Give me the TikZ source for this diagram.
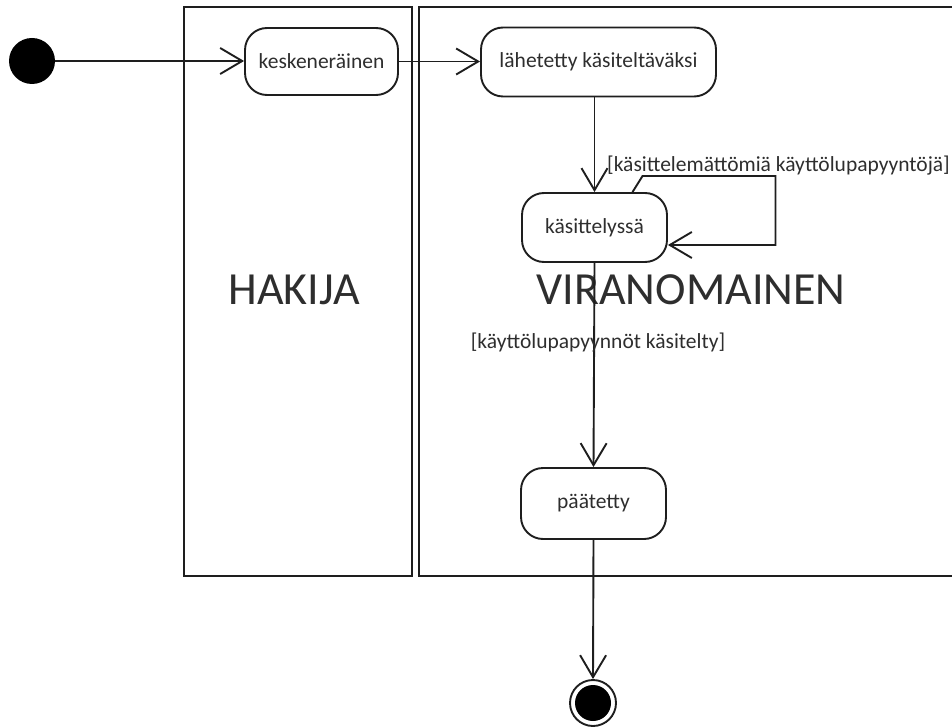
\documentclass[tikz,border=0pt]{standalone}
\usepackage{fontspec}
\setmainfont{Carlito}
\usetikzlibrary{arrows.meta}
\definecolor{ink}{HTML}{1E1E1E}
\definecolor{txt}{HTML}{2E2E2E}
\tikzset{
  lane/.style={draw=ink, line width=2.4pt},
  state/.style={draw=ink, line width=1.9pt, rounded corners=22pt, inner sep=0pt,
    text=txt, font=\fontsize{21.5}{25}\selectfont},
  flow/.style={draw=ink, line width=1.9pt,
    -{Straight Barb[length=22pt, width=26pt, line width=1.9pt]}},
  guard/.style={text=txt, font=\fontsize{21.5}{25}\selectfont, inner sep=0pt},
  lanetitle/.style={text=txt, font=\fontsize{46}{50}\selectfont, inner sep=0pt},
}
\begin{document}
\begin{tikzpicture}[x=1pt, y=-1pt]
\useasboundingbox (0,0) rectangle (952,727);

% swimlanes
\draw[lane] (184,7) rectangle (412,576);
\draw[lane] (952,7) -- (419,7) -- (419,576) -- (952,576);
\node[lanetitle] (hakija) at (294,290) {HAKIJA};
\node[lanetitle] (viranomainen) at (691,290) {VIRANOMAINEN};

% initial and final states
\node[circle, fill=black, minimum size=46pt, inner sep=0pt] (start) at (32,61) {};
\node[circle, draw=ink, line width=1.9pt, minimum size=46pt, inner sep=0pt] (end) at (593,703) {};
\fill[black] (end.center) circle (18pt);

% states
\node[state, minimum width=153pt, minimum height=67pt] (kesk) at (321.5,61.5) {keskeneräinen};
\node[state, minimum width=235pt, minimum height=69pt] (lah) at (598.5,62) {lähetetty käsiteltäväksi};
\node[state, minimum width=145pt, minimum height=69pt] (ks) at (594.5,227.5) {käsittelyssä};
\node[state, minimum width=145pt, minimum height=71pt] (paa) at (593.5,503.5) {päätetty};

% transitions
\draw[flow] (start.east) -- (start.east -| kesk.west);
\draw[flow] (kesk.east) -- (kesk.east -| lah.west);
\draw[flow] (lah.south -| ks.north) -- (ks.north);
\draw[flow] ([xshift=38pt]ks.north) -- ++(10,-16) -- ++(133,0) |- ([yshift=-17.5pt]ks.east);
\draw[flow] (ks.south) -- (paa.north);
\draw[flow] (paa.south) -- (end.north);

% guards
\node[guard, anchor=base west] (g1) at (607,172) {[käsittelemättömiä käyttölupapyyntöjä]};
\node[guard, anchor=base] (g2) at (598,348) {[käyttölupapyynnöt käsitelty]};
\end{tikzpicture}
\end{document}
